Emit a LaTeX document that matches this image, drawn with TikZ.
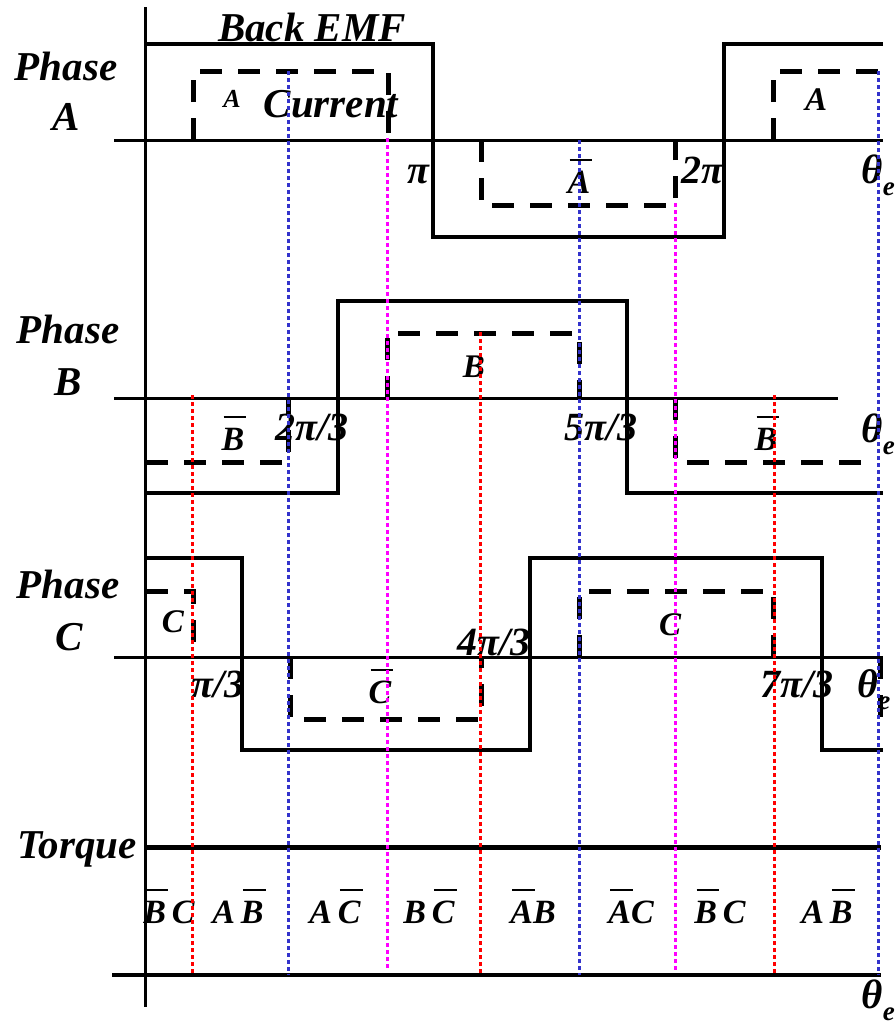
\documentclass[tikz,border=0pt]{standalone}
\usepackage{fontspec}
\setmainfont{Liberation Serif}
\newsavebox\obx
\newcommand\ovl[1]{\sbox\obx{#1}\rlap{\hspace{0.06em}\rule[0.95em]{\wd\obx}{1.6pt}}\usebox\obx}
\newcommand\myThetaE{θ\raisebox{-0.3em}{\fontsize{27}{27}\selectfont e}}
\definecolor{dblue}{RGB}{51,51,204}
\definecolor{dmag}{RGB}{255,0,255}
\definecolor{dred}{RGB}{255,0,0}
\begin{document}
\begin{tikzpicture}[x=1pt,y=-1pt,
  emf/.style={line width=4pt},
  cur/.style={line width=5pt, dash pattern=on 22pt off 16pt},
  ax/.style={line width=3pt},
  dotl/.style={line width=3pt, dash pattern=on 4pt off 3pt},
  lbl/.style={inner sep=0pt, anchor=base, font=\bfseries\itshape\fontsize{41}{41}\selectfont},
  mid/.style={inner sep=0pt, anchor=base, font=\bfseries\itshape\fontsize{40}{40}\selectfont},
  the/.style={inner sep=0pt, anchor=base east, font=\bfseries\itshape\fontsize{41}{41}\selectfont},
  sml/.style={inner sep=0pt, anchor=base, font=\bfseries\itshape\fontsize{33}{33}\selectfont},
  tq/.style={inner sep=0pt, anchor=base, font=\bfseries\itshape\fontsize{34}{34}\selectfont}]
\useasboundingbox (0,0) rectangle (895,1026);
% axes
\draw[ax] (145,7) -- (145,1007);
\draw[ax] (114,140) -- (883,140);
\draw[ax] (114,398) -- (838,398);
\draw[ax] (114,657) -- (883,657);
\draw[line width=5pt] (146,847) -- (881,847);
\draw[line width=4pt] (112,975) -- (881,975);
% back EMF
\draw[emf] (146,44) -- (433,44) -- (433,237) -- (724,237) -- (724,44) -- (883,44);
\draw[emf] (146,493) -- (338,493) -- (338,301) -- (627,301) -- (627,493) -- (883,493);
\draw[emf] (146,558) -- (242,558) -- (242,750) -- (530,750) -- (530,558) -- (822,558) -- (822,750) -- (883,750);
% currents
\draw[cur] (193,140) -- (193,71) -- (388,71) -- (388,140);
\draw[cur] (481,140) -- (481,205) -- (675,205) -- (675,140);
\draw[cur] (773,140) -- (773,71) -- (878,71);
\draw[cur] (146,462) -- (288,462) -- (288,398);
\draw[cur] (387,398) -- (387,333) -- (579,333) -- (579,398);
\draw[cur] (675,398) -- (675,462) -- (870,462);
\draw[cur] (146,591) -- (193,591) -- (193,657);
\draw[cur] (290,657) -- (290,719) -- (481,719) -- (481,657);
\draw[cur] (579,657) -- (579,591) -- (773,591) -- (773,657);
\draw[cur] (880,657) -- (880,720);
% labels phase A
\node[lbl] (bemf) at (312,41) {Back EMF};
\node[lbl] (pha) at (66,80) {Phase};
\node[lbl] (pa) at (66,130) {A};
\node[inner sep=0pt, anchor=base, font=\bfseries\itshape\fontsize{26}{26}\selectfont] (ca1) at (232,107) {A};
\node[lbl] (curr) at (331,117) {Current};
\node[mid] (pi1) at (418,183) {π};
\node[tq] (ca2) at (579,193) {\ovl{A}};
\node[mid] (tpi) at (702,183) {2π};
\node[the] (tha) at (895,183) {\myThetaE};
\node[sml] (ca3) at (816,110) {A};
% phase B
\node[lbl] (phb) at (68,343) {Phase};
\node[lbl] (pb) at (68,395) {B};
\node[tq] (cb1) at (233,450) {\ovl{B}};
\node[mid] (tpi3) at (312,440) {2π/3};
\node[sml] (cb2) at (474,377) {B};
\node[mid] (fpi3) at (601,440) {5π/3};
\node[tq] (cb3) at (766,450) {\ovl{B}};
\node[the] (thb) at (895,442) {\myThetaE};
% phase C
\node[lbl] (phc) at (68,598) {Phase};
\node[lbl] (pc) at (69,650) {C};
\node[sml] (cc1) at (173,632) {C};
\node[mid] (pi3) at (218,697) {π/3};
\node[tq] (cc2) at (380,703) {\ovl{C}};
\node[mid] (fo3) at (494,655) {4π/3};
\node[sml] (cc3) at (670,635) {C};
\node[mid] (se3) at (797,697) {7π/3};
\node[mid] (thc) at (874,697) {\myThetaE};
% torque
\node[lbl] (torq) at (77,858) {Torque};
\node[tq] (t1) at (169,923) {\ovl{B}\,C};
\node[tq] (t2) at (238,923) {A\,\ovl{B}};
\node[tq] (t3) at (335,923) {A\,\ovl{C}};
\node[tq] (t4) at (429,923) {B\,\ovl{C}};
\node[tq] (t5) at (533,923) {\ovl{A}B};
\node[tq] (t6) at (631,923) {\ovl{A}C};
\node[tq] (t7) at (720,923) {\ovl{B}\,C};
\node[tq] (t8) at (827,923) {A\,\ovl{B}};
\node[the] (thd) at (895,1008) {\myThetaE};
% dotted markers
\draw[dotl, dred] (192,395) -- (192,975);
\draw[dotl, dred] (480,332) -- (480,975);
\draw[dotl, dred] (774,395) -- (774,975);
\draw[dotl, dblue] (288,71) -- (288,975);
\draw[dotl, dblue] (579,140) -- (579,975);
\draw[dotl, dblue] (878,71) -- (878,975);
\draw[dotl, dmag] (387,138) -- (387,970);
\draw[dotl, dmag] (675,203) -- (675,970);
\end{tikzpicture}
\end{document}
